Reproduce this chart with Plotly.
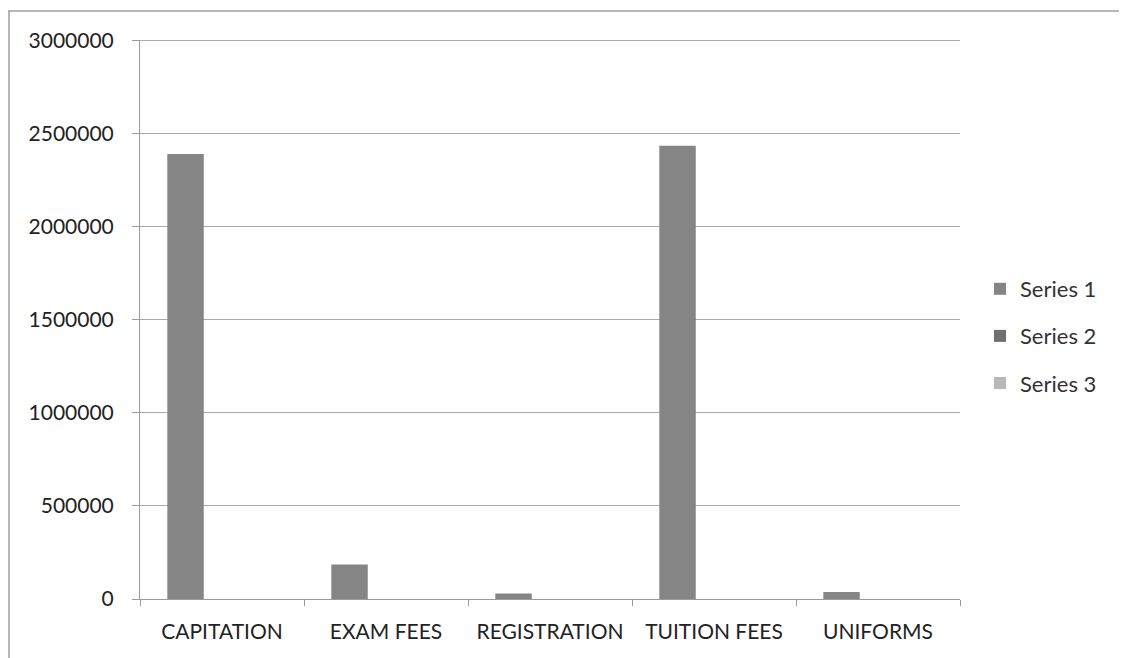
import plotly.graph_objects as go

categories = ["CAPITATION", "EXAM FEES", "REGISTRATION", "TUITION FEES", "UNIFORMS"]
series1 = [2390000, 185000, 30000, 2435000, 38000]
series2 = [0, 0, 0, 0, 0]
series3 = [0, 0, 0, 0, 0]
y_ticks = [0, 500000, 1000000, 1500000, 2000000, 2500000, 3000000]

OFF = 8  # page body margin
W, H = 1127 - OFF, 658 - OFF
# desired plot area in screen pixels
L, R, T, B = 140, 960, 40, 599

fig = go.Figure()
fig.add_bar(name="Series 1", x=categories, y=series1, legendgroup="g1",
            marker=dict(color="#858585", line=dict(width=0)))
fig.add_bar(name="Series 2", x=categories, y=series2, legendgroup="g2",
            marker=dict(color="#6f6f6f", line=dict(width=0)))
fig.add_bar(name="Series 3", x=categories, y=series3, legendgroup="g3",
            marker=dict(color="#b8b8b8", line=dict(width=0)))

pw = R - L
ph = B - T
def px(x):
    return (x - L) / pw
def py(y):
    return (B - y) / ph

fig.update_layout(
    width=W, height=H,
    margin=dict(l=L - OFF, r=W - (R - OFF), t=T - OFF, b=H - (B - OFF), pad=0),
    paper_bgcolor="white", plot_bgcolor="white",
    barmode="group", bargap=0.333, bargroupgap=0,
    font=dict(family="Lato, 'Open Sans', sans-serif", size=21, color="#222222"),
    showlegend=True,
    legend=dict(x=px(980), y=py(268), xanchor="left", yanchor="top",
                font=dict(size=22, color="#333333"), itemwidth=30, tracegroupgap=15.5,
                bgcolor="rgba(0,0,0,0)"),
    xaxis=dict(type="category", showgrid=False, showline=True, linecolor="#9a9a9a", linewidth=1,
               ticks="outside", tickson="boundaries", ticklen=6, tickcolor="#9a9a9a",
               ticklabelstandoff=14,
               tickfont=dict(size=21, color="#222222"), fixedrange=True),
    yaxis=dict(range=[0, 3003000], tickvals=y_ticks, ticktext=[str(v) for v in y_ticks],
               showgrid=True, gridcolor="#a8a8a8", gridwidth=1,
               showline=True, linecolor="#9a9a9a", linewidth=1,
               ticks="outside", ticklen=7, tickcolor="#9a9a9a",
               ticklabelstandoff=14,
               tickfont=dict(size=21, color="#222222"), zeroline=False, fixedrange=True),
    shapes=[
        dict(type="line", xref="paper", yref="y", x0=0, x1=1, y0=y_ticks[-1], y1=y_ticks[-1],
             line=dict(color="#a8a8a8", width=1), layer="below"),
        dict(type="line", xref="paper", yref="paper", x0=px(8), x1=px(1127), y0=py(11), y1=py(11),
             line=dict(color="#a0a0a0", width=1.5)),
        dict(type="line", xref="paper", yref="paper", x0=px(9), x1=px(9), y0=py(11), y1=py(658),
             line=dict(color="#a0a0a0", width=1.5)),
    ],
)

fig.write_html("out.html")
